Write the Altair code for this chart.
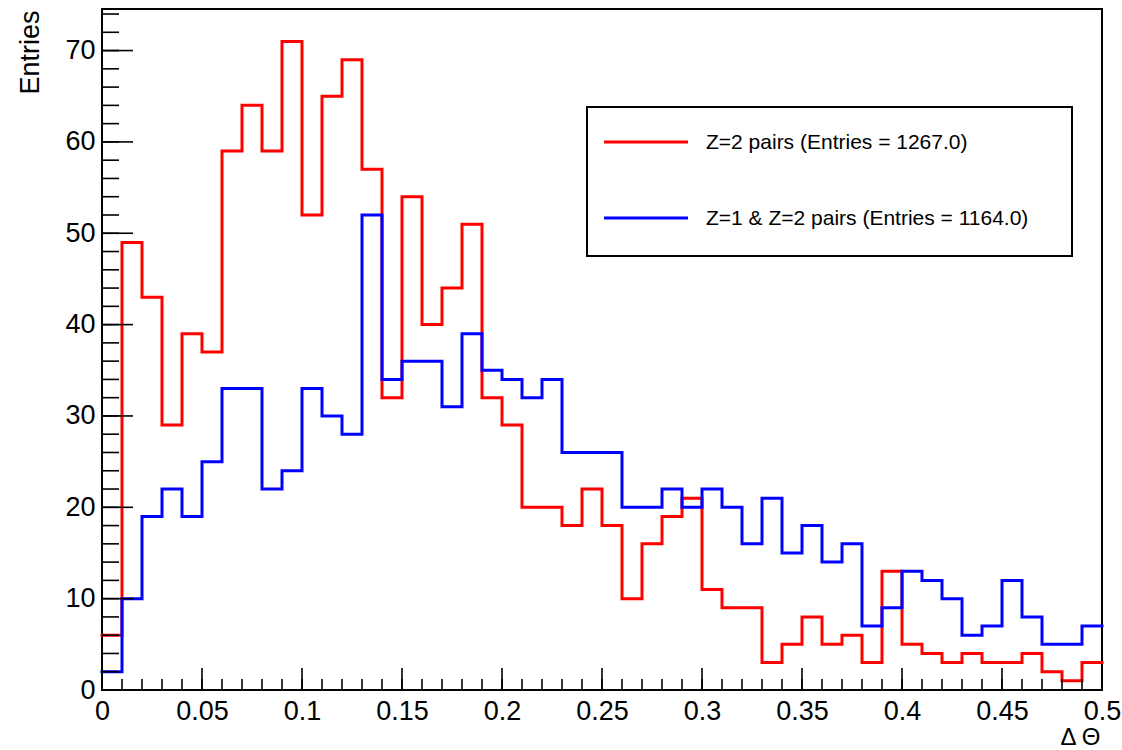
import altair as alt
import pandas as pd

# ---- data (50 bins of width 0.01 from 0 to 0.5) ----
bin_width = 0.01
x_domain = [0.0, 0.5]
y_domain = [0.0, 74.55]

z2_counts = [6, 49, 43, 29, 39, 37, 59, 64, 59, 71,
             52, 65, 69, 57, 32, 54, 40, 44, 51, 32,
             29, 20, 20, 18, 22, 18, 10, 16, 19, 21,
             11, 9, 9, 3, 5, 8, 5, 6, 3, 13,
             5, 4, 3, 4, 3, 3, 4, 2, 1, 3]
z12_counts = [2, 10, 19, 22, 19, 25, 33, 33, 22, 24,
              33, 30, 28, 52, 34, 36, 36, 31, 39, 35,
              34, 32, 34, 26, 26, 26, 20, 20, 22, 20,
              22, 20, 16, 21, 15, 18, 14, 16, 7, 9,
              13, 12, 10, 6, 7, 12, 8, 5, 5, 7]

x_label_values = [0, 0.05, 0.1, 0.15, 0.2, 0.25, 0.3, 0.35, 0.4, 0.45, 0.5]
x_minor_values = [round(i * 0.01, 2) for i in range(51)]
y_label_values = [0, 10, 20, 30, 40, 50, 60, 70]
y_minor_values = list(range(0, 75, 2))

legend_labels = ["Z=2 pairs (Entries = 1267.0)", "Z=1 & Z=2 pairs (Entries = 1164.0)"]
legend_colors = ["#ff0000", "#0000ff"]

FONT = "Liberation Sans"


def steps(counts):
    xs = [i * bin_width for i in range(len(counts))] + [x_domain[1]]
    ys = list(counts) + [counts[-1]]
    return pd.DataFrame({"x": xs, "y": ys})


x_scale = alt.Scale(domain=x_domain, nice=False, zero=False)
y_scale = alt.Scale(domain=y_domain, nice=False, zero=False)

x_axis = alt.Axis(values=x_label_values, format="~g", title="Δ Θ",
                  labelFont=FONT, labelFontSize=27, labelColor="#000",
                  labelPadding=8, labelFlush=False, labelOverlap=False,
                  titleFont=FONT, titleFontSize=24, titleFontWeight="normal",
                  titleColor="#000", titleAlign="right", titleBaseline="alphabetic",
                  titleX=998, titleY=54, titleAngle=0)
y_axis = alt.Axis(values=y_label_values, title="Entries",
                  labelFont=FONT, labelFontSize=27, labelColor="#000",
                  labelPadding=7, labelFlush=False, labelOverlap=False,
                  titleFont=FONT, titleFontSize=27, titleFontWeight="normal",
                  titleColor="#000", titleAngle=270, titleAlign="right",
                  titleBaseline="alphabetic", titleX=-64, titleY=1)

X = lambda: alt.X("x:Q", scale=x_scale, axis=x_axis)
Y = lambda: alt.Y("y:Q", scale=y_scale, axis=y_axis)

red = alt.Chart(steps(z2_counts)).mark_line(
    color="#ff0000", strokeWidth=3, interpolate="step-after",
    strokeJoin="miter", strokeCap="square").encode(x=X(), y=Y())
blue = alt.Chart(steps(z12_counts)).mark_line(
    color="#0000ff", strokeWidth=3, interpolate="step-after",
    strokeJoin="miter", strokeCap="square").encode(x=X(), y=Y())

tick_style = dict(color="#000", strokeWidth=1.6)
y_minor = alt.Chart(pd.DataFrame({"y": y_minor_values})).mark_rule(**tick_style).encode(
    y=Y(), x=alt.value(0), x2=alt.value(17))
y_major = alt.Chart(pd.DataFrame({"y": y_label_values})).mark_rule(**tick_style).encode(
    y=Y(), x=alt.value(0), x2=alt.value(31))
x_minor = alt.Chart(pd.DataFrame({"x": x_minor_values})).mark_rule(**tick_style).encode(
    x=X(), y=alt.value(681), y2=alt.value(670))
x_major = alt.Chart(pd.DataFrame({"x": x_label_values})).mark_rule(**tick_style).encode(
    x=X(), y=alt.value(681), y2=alt.value(659))

# legend (drawn like ROOT's TLegend box)
legend_layers = []
legend_box = alt.Chart(pd.DataFrame({"label": ["box"]})).mark_rect(
    fill="white", stroke="#000", strokeWidth=2).encode(
    x=alt.value(485), x2=alt.value(970), y=alt.value(98), y2=alt.value(247))
legend_layers.append(legend_box)
for lab, col, yp in zip(legend_labels, legend_colors, [133, 209]):
    ldf = pd.DataFrame({"label": [lab]})
    legend_layers.append(alt.Chart(ldf).mark_rule(color=col, strokeWidth=3).encode(
        x=alt.value(502), x2=alt.value(586), y=alt.value(yp)))
    legend_layers.append(alt.Chart(ldf).mark_text(
        align="left", baseline="middle", font=FONT, fontSize=21, color="#000").encode(
        x=alt.value(604), y=alt.value(yp + 1), text="label:N"))

chart = alt.layer(
    red, blue, y_minor, y_major, x_minor, x_major, *legend_layers
).properties(
    width=1000, height=681,
    padding={"left": 102, "top": 9, "right": 20, "bottom": 60},
    autosize=alt.AutoSizeParams(type="none"),
    background="white",
).configure_view(
    stroke="#000", strokeWidth=2
).configure_axis(
    grid=False, domain=False, ticks=False
)

chart.save("out.html", embed_options={"renderer": "svg", "actions": False})
